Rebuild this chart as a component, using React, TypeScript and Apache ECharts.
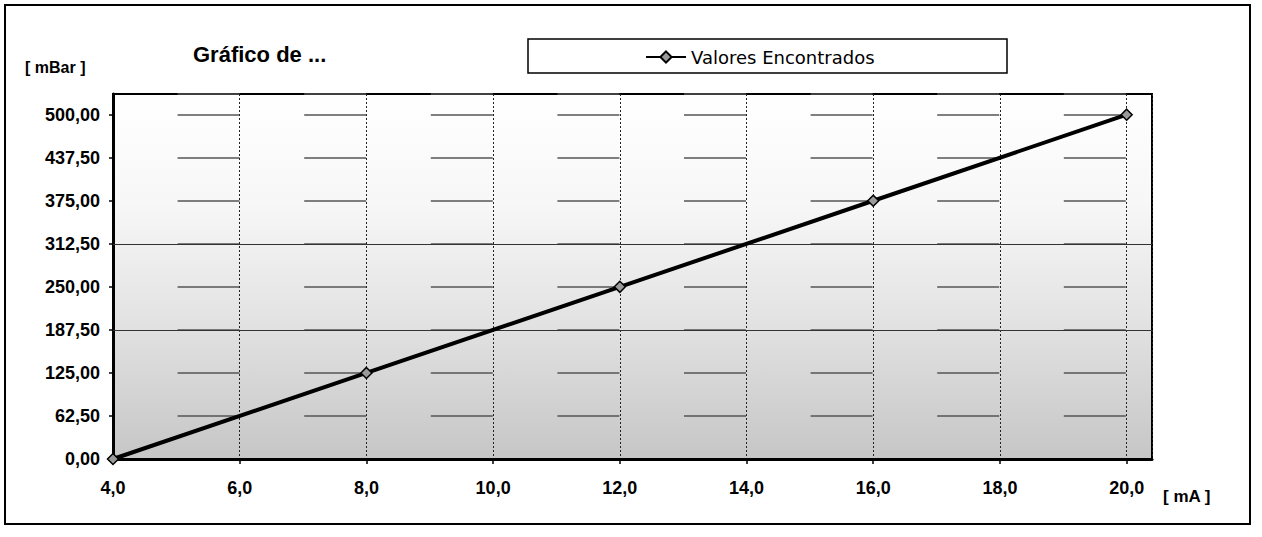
import React, { useEffect, useRef } from "react";
import * as echarts from "echarts";

// ---- data ----
const seriesName = "Valores Encontrados";
const xValues = [4, 8, 12, 16, 20]; // mA
const yValues = [0, 125, 250, 375, 500]; // mBar
const xMin = 4;
const xMax = 20.4;
const xInterval = 2;
const yMin = 0;
const yMax = 530;
const yInterval = 62.5;
const solidGridLevels = [312.5, 187.5];
const titleText = "Gráfico de ...";
const yUnit = "[ mBar ]";
const xUnit = "[ mA ]";

const LABEL_FONT = "'Liberation Sans', Arial, sans-serif";

export default function App() {
  const ref = useRef<HTMLDivElement>(null);

  useEffect(() => {
    if (!ref.current) return;
    const chart = echarts.init(ref.current, null, { renderer: "svg" });
    const data = xValues.map((x, i) => [x, yValues[i]]);

    chart.setOption({
      animation: false,
      backgroundColor: "#ffffff",
      title: {
        text: titleText,
        left: 193,
        top: 43,
        padding: 0,
        textStyle: {
          fontFamily: LABEL_FONT,
          fontSize: 22,
          fontWeight: "bold",
          color: "#000",
        },
      },
      legend: {
        left: 645,
        top: 48,
        padding: 0,
        itemWidth: 40,
        itemHeight: 14,
        itemGap: 4,
        textStyle: {
          fontFamily: "'DejaVu Sans', sans-serif",
          fontSize: 18,
          color: "#000",
        },
        data: [seriesName],
      },
      grid: {
        left: 113,
        right: 110,
        top: 94,
        bottom: 78,
        show: true,
        borderColor: "#000",
        borderWidth: 2,
        backgroundColor: new echarts.graphic.LinearGradient(0, 0, 0, 1, [
          { offset: 0, color: "#ffffff" },
          { offset: 0.3, color: "#f7f7f7" },
          { offset: 0.6, color: "#e4e4e4" },
          { offset: 1, color: "#c6c6c6" },
        ]),
      },
      xAxis: {
        type: "value",
        min: xMin,
        max: xMax,
        interval: xInterval,
        axisLine: { show: true, lineStyle: { color: "#000", width: 3 } },
        axisTick: { show: true, length: 5, lineStyle: { color: "#000", width: 1.5 } },
        axisLabel: {
          showMaxLabel: false,
          margin: 20,
          fontFamily: LABEL_FONT,
          fontSize: 18,
          fontWeight: "bold",
          color: "#000",
          formatter: (v: number) => v.toFixed(1).replace(".", ","),
        },
        splitLine: {
          show: true,
          lineStyle: { color: "#222", width: 1, type: [2, 2] },
        },
      },
      yAxis: {
        type: "value",
        min: yMin,
        max: yMax,
        interval: yInterval,
        axisLine: { show: true, lineStyle: { color: "#000", width: 3 } },
        axisTick: { show: true, length: 4, lineStyle: { color: "#000", width: 1.5 } },
        axisLabel: {
          showMaxLabel: false,
          margin: 13,
          fontFamily: LABEL_FONT,
          fontSize: 18,
          fontWeight: "bold",
          color: "#000",
          formatter: (v: number) => v.toFixed(2).replace(".", ","),
        },
        splitLine: {
          show: true,
          lineStyle: {
            color: "#555",
            width: 1.5,
            type: [62, 64.6],
            dashOffset: 62,
          },
        },
      },
      series: [
        {
          name: seriesName,
          type: "line",
          data,
          symbol: "diamond",
          symbolSize: 11,
          showSymbol: true,
          lineStyle: { color: "#000", width: 4 },
          itemStyle: { color: "#9a9a9a", borderColor: "#000", borderWidth: 1.5 },
          markLine: {
            silent: true,
            symbol: ["none", "none"],
            label: { show: false },
            lineStyle: { type: "solid", color: "#333", width: 1 },
            data: solidGridLevels.map((v) => ({ yAxis: v })),
            z: 1,
          },
          z: 5,
        },
      ],
      graphic: [
        {
          type: "rect",
          shape: { x: 5, y: 5, width: 1245, height: 519 },
          style: { fill: "none", stroke: "#000", lineWidth: 2 },
          silent: true,
        },
        {
          type: "rect",
          shape: { x: 528, y: 39, width: 479, height: 34 },
          style: { fill: "none", stroke: "#000", lineWidth: 1.5 },
          silent: true,
        },
        {
          type: "text",
          x: 25,
          y: 67,
          style: {
            text: yUnit,
            fontFamily: LABEL_FONT,
            fontSize: 16,
            fontWeight: "bold",
            fill: "#000",
            verticalAlign: "middle",
            align: "left",
          },
        },
        {
          type: "text",
          x: 1163,
          y: 496,
          style: {
            text: xUnit,
            fontFamily: LABEL_FONT,
            fontSize: 17,
            fontWeight: "bold",
            fill: "#000",
            verticalAlign: "middle",
            align: "left",
          },
        },
      ],
    });

    return () => {
      chart.dispose();
    };
  }, []);

  return (
    <div
      ref={ref}
      style={{
        position: "absolute",
        left: 0,
        top: 0,
        width: 1262,
        height: 537,
        background: "#fff",
      }}
    />
  );
}
